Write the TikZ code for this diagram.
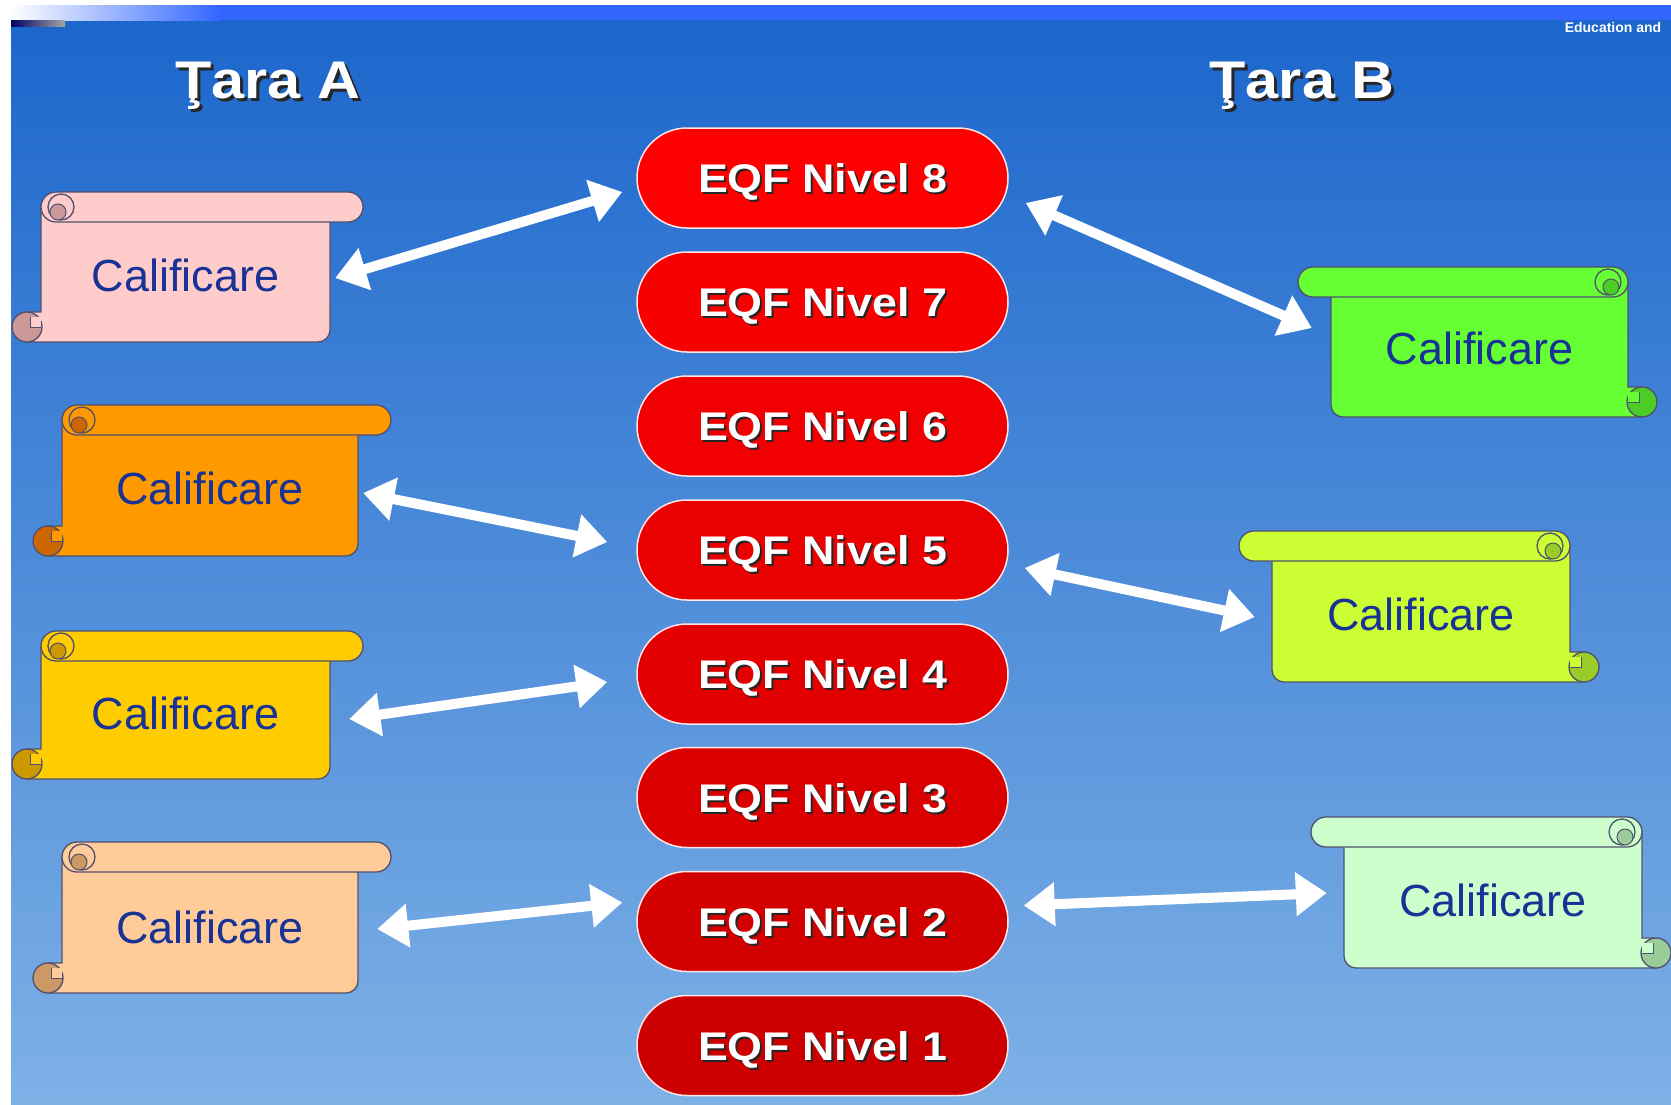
\documentclass[tikz,border=0pt]{standalone}
\usepackage{fontspec}
\setmainfont{Liberation Sans}
\newfontfamily\widefont[FakeStretch=1.12]{Liberation Sans}
\usetikzlibrary{arrows.meta,calc}

\definecolor{bgtop}{RGB}{28,102,204}
\definecolor{bgbot}{RGB}{126,177,230}
\definecolor{barblue}{RGB}{51,102,255}
\definecolor{txtblue}{RGB}{25,50,150}
\definecolor{ol}{RGB}{80,80,110}
\definecolor{pinkF}{RGB}{255,204,204}\definecolor{pinkD}{RGB}{204,153,153}
\definecolor{oranF}{RGB}{255,153,0}\definecolor{oranD}{RGB}{204,102,0}
\definecolor{yellF}{RGB}{255,204,0}\definecolor{yellD}{RGB}{204,153,0}
\definecolor{peacF}{RGB}{255,204,153}\definecolor{peacD}{RGB}{204,153,102}
\definecolor{grnF}{RGB}{102,255,51}\definecolor{grnD}{RGB}{76,204,38}
\definecolor{ygrF}{RGB}{204,255,51}\definecolor{ygrD}{RGB}{153,204,41}
\definecolor{lgrF}{RGB}{204,255,204}\definecolor{lgrD}{RGB}{153,204,153}
\definecolor{nc8}{RGB}{255,0,0}\definecolor{nc7}{RGB}{248,0,0}
\definecolor{nc6}{RGB}{240,0,0}\definecolor{nc5}{RGB}{233,0,0}
\definecolor{nc4}{RGB}{226,0,0}\definecolor{nc3}{RGB}{219,0,0}
\definecolor{nc2}{RGB}{211,0,0}\definecolor{nc1}{RGB}{204,0,0}

\newcommand\shtext[2]{\makebox[0pt][l]{\hspace*{#1}\raisebox{-#1}{\color{black!85}#2}}{\color{white}#2}}

\newcommand\scrollshape[4]{%
  \path[fill=#3,draw=ol,line width=1.3pt] (29,15) -- ({#1-33},15) -- ({#1-33},{#2-12})
     arc[start angle=0,end angle=90,radius=12] -- (15,#2) -- (15,{#2-30}) -- (29,{#2-30}) -- cycle;
  \path[fill=#3,draw=ol,line width=1.3pt,rounded corners=15pt] (29,0) rectangle (#1,30);
  \path[fill=#4,draw=ol,line width=1.3pt] (15,{#2-15}) circle[radius=15];
  \path[fill=#3] (18,{#2-25}) rectangle (29,{#2-15});
  \draw[ol,line width=1pt] (29,{#2-15}) -- (18,{#2-15}) -- (18,{#2-25});
  \path[fill=#3,draw=ol,line width=1.3pt] (49,15) circle[radius=13];
  \path[fill=#4,draw=ol,line width=1pt] (46,20) circle[radius=8];
}

\tikzset{
  pill/.style={draw=white!90!red, line width=1.5pt, rounded corners=50pt,
    minimum width=371pt, minimum height=100pt, inner sep=0pt, text depth=0pt,
    font=\widefont\bfseries\fontsize{40}{48}\selectfont},
  calif/.style={text=txtblue, font=\fontsize{45}{54}\selectfont,
    minimum height=100pt, inner sep=0pt},
  title/.style={font=\widefont\bfseries\fontsize{53}{60}\selectfont, inner sep=0pt, text depth=0pt},
  dbl/.style={white, line width=10pt,
    {Triangle[length=31pt,width=42pt]}-{Triangle[length=31pt,width=42pt]}}
}

\begin{document}
\begin{tikzpicture}[x=1pt,y=-1pt]
\useasboundingbox (0,0) rectangle (1671,1104);
\fill[white] (0,0) rectangle (1671,1104);
\shade[top color=bgtop,bottom color=bgbot] (11,20) rectangle (1671,1104);
\shade[left color=white,right color=barblue] (11,5) rectangle (220,20);
\fill[barblue] (219,5) rectangle (1671,20);
\shade[left color=blue!40!black,right color=gray!70] (11,20) rectangle (65,26);
\node[font=\bfseries\fontsize{14}{16}\selectfont, text=white, inner sep=0pt] (edu) at (1613,27) {Education and};

% titles
\node[title] (ta) at (268,80) {\shtext{3pt}{Ţara A}};
\node[title] (tb) at (1302,80) {\shtext{3pt}{Ţara B}};

% scrolls
\begin{scope}[shift={(12,192)}]\scrollshape{351}{150}{pinkF}{pinkD}\end{scope}
\begin{scope}[shift={(33,405)}]\scrollshape{358}{151}{oranF}{oranD}\end{scope}
\begin{scope}[shift={(12,631)}]\scrollshape{351}{148}{yellF}{yellD}\end{scope}
\begin{scope}[shift={(33,842)}]\scrollshape{358}{151}{peacF}{peacD}\end{scope}
\begin{scope}[shift={(1657,267)},xscale=-1]\scrollshape{359}{150}{grnF}{grnD}\end{scope}
\begin{scope}[shift={(1599,531)},xscale=-1]\scrollshape{360}{151}{ygrF}{ygrD}\end{scope}
\begin{scope}[shift={(1671,817)},xscale=-1]\scrollshape{360}{151}{lgrF}{lgrD}\end{scope}

\node[calif, minimum width=289pt] (s1) at (185.5,275) {Calificare};
\node[calif, minimum width=296pt] (s2) at (210,488) {Calificare};
\node[calif, minimum width=289pt] (s3) at (185.5,713) {Calificare};
\node[calif, minimum width=296pt] (s4) at (210,927) {Calificare};
\node[calif, minimum width=297pt] (s5) at (1479.5,348) {Calificare};
\node[calif, minimum width=298pt] (s6) at (1421,614) {Calificare};
\node[calif, minimum width=298pt] (s7) at (1493,900) {Calificare};

% EQF levels
\node[pill, fill=nc8] (n8) at (822.5,178) {\shtext{2pt}{EQF Nivel 8}};
\node[pill, fill=nc7] (n7) at (822.5,302) {\shtext{2pt}{EQF Nivel 7}};
\node[pill, fill=nc6] (n6) at (822.5,426) {\shtext{2pt}{EQF Nivel 6}};
\node[pill, fill=nc5] (n5) at (822.5,550) {\shtext{2pt}{EQF Nivel 5}};
\node[pill, fill=nc4] (n4) at (822.5,674) {\shtext{2pt}{EQF Nivel 4}};
\node[pill, fill=nc3] (n3) at (822.5,797.5) {\shtext{2pt}{EQF Nivel 3}};
\node[pill, fill=nc2] (n2) at (822.5,921.5) {\shtext{2pt}{EQF Nivel 2}};
\node[pill, fill=nc1] (n1) at (822.5,1045.5) {\shtext{2pt}{EQF Nivel 1}};

% connectors
\draw[dbl] ($(s1.east)+(5,3)$) -- ($(n8.west)+(-14,14)$);
\draw[dbl] ($(n8.east)+(17,25)$) -- ($(s5.west)+(-19,-20)$);
\draw[dbl] ($(s2.east)+(5,5)$) -- ($(n5.west)+(-29,-8)$);
\draw[dbl] ($(n5.east)+(16,18)$) -- ($(s6.west)+(-17,3)$);
\draw[dbl] ($(s3.east)+(19,6)$) -- ($(n4.west)+(-29,8)$);
\draw[dbl] ($(s4.east)+(19,2)$) -- ($(n2.west)+(-14,-19)$);
\draw[dbl] ($(n2.east)+(15,-16)$) -- ($(s7.west)+(-17,-7)$);
\end{tikzpicture}
\end{document}
